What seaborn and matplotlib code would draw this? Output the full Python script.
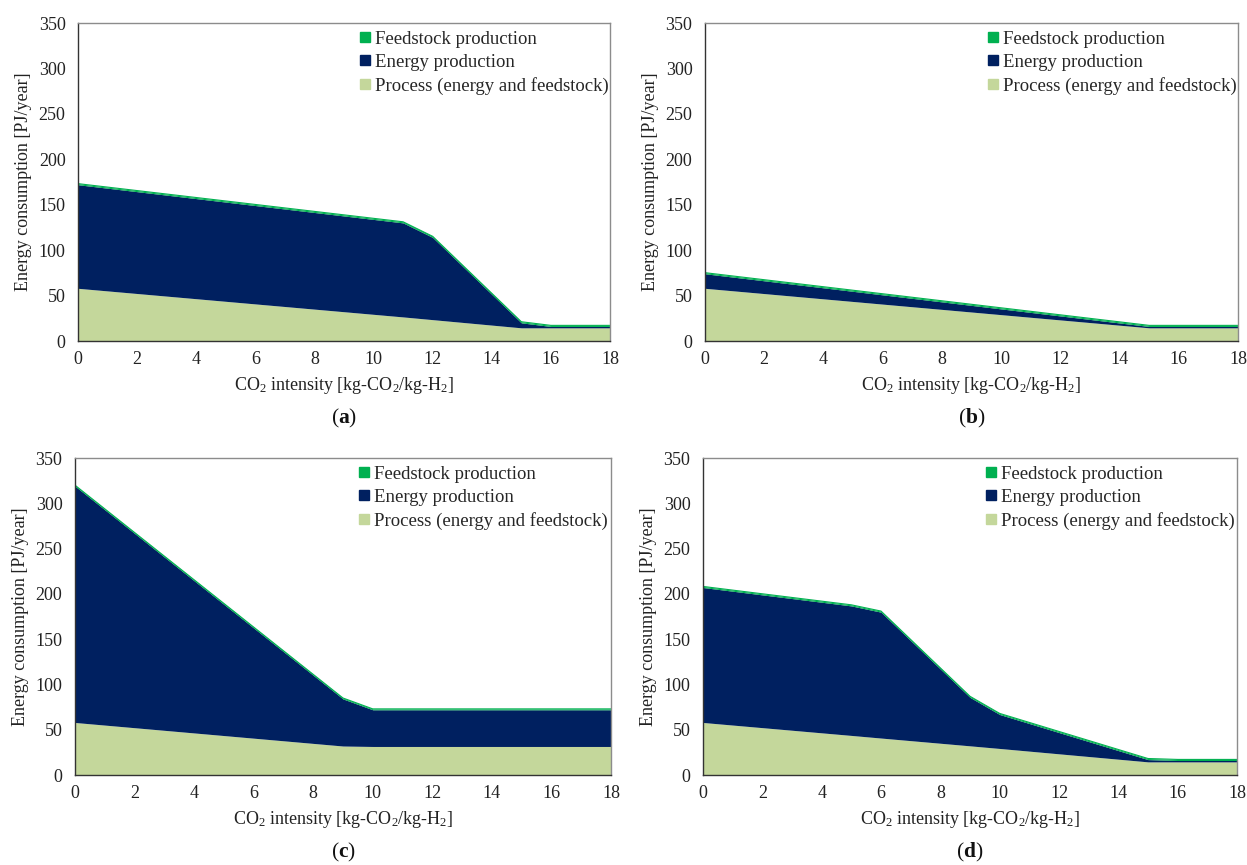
import numpy as np
import pandas as pd
import matplotlib
matplotlib.use("Agg")
import matplotlib.pyplot as plt
from matplotlib.lines import Line2D
import seaborn as sns

# CO2 intensity breakpoints [kg-CO2/kg-H2] and stacked energy consumption [PJ/year]
a_x = [0, 11, 12, 15, 16, 18]
a_process = [58, 26.5, 23.5, 14.5, 14.5, 14.5]
a_energy = [114, 103.5, 90.5, 5.5, 1.5, 1.5]
a_feed = [1.2, 1.2, 1.2, 1.2, 1.2, 1.2]

b_x = [0, 15, 18]
b_process = [58, 14.5, 14.5]
b_energy = [16, 1.5, 1.5]
b_feed = [1.2, 1.2, 1.2]

c_x = [0, 9, 10, 18]
c_process = [58, 32, 31.5, 31.5]
c_energy = [261, 52, 40.5, 40.5]
c_feed = [1.0, 1.0, 1.0, 1.0]

d_x = [0, 5, 6, 9, 10, 15, 16, 18]
d_process = [58, 43.7, 40.8, 32.2, 29.3, 14.5, 14.5, 14.5]
d_energy = [149, 143, 139, 53.5, 37.5, 2.5, 1.5, 1.5]
d_feed = [1.2, 1.2, 1.2, 1.2, 1.2, 1.2, 1.2, 1.2]

panel_labels = ["a", "b", "c", "d"]
series_names = ["Feedstock production", "Energy production", "Process (energy and feedstock)"]
x_ticks = [0, 2, 4, 6, 8, 10, 12, 14, 16, 18]
y_ticks = [0, 50, 100, 150, 200, 250, 300, 350]

COL_FEED = "#00B050"
COL_ENERGY = "#002060"
COL_PROCESS = "#C4D79B"

sns.set_theme(style="white")
plt.rcParams["font.family"] = ["Liberation Serif", "DejaVu Serif"]
plt.rcParams["mathtext.fontset"] = "custom"
plt.rcParams["mathtext.rm"] = "Liberation Serif"
plt.rcParams["mathtext.it"] = "Liberation Serif:italic"
plt.rcParams["mathtext.bf"] = "Liberation Serif:bold"

fig = plt.figure(figsize=(12.47, 8.65), dpi=100)

W = 1247.0
H = 865.0
# axes boxes in pixels: left, right, top, bottom
boxes = [
    (78, 610, 23, 341),
    (705, 1238, 23, 341),
    (75, 611, 458, 775),
    (703, 1237, 458, 775),
]
panels = [
    (a_x, a_process, a_energy, a_feed),
    (b_x, b_process, b_energy, b_feed),
    (c_x, c_process, c_energy, c_feed),
    (d_x, d_process, d_energy, d_feed),
]

for (l, r, t, b), (xs, proc, ener, feed), lab in zip(boxes, panels, panel_labels):
    ax = fig.add_axes([l / W, 1 - b / H, (r - l) / W, (b - t) / H])
    df = pd.DataFrame({"x": xs, "process": proc, "energy": ener, "feed": feed})
    df["lvl1"] = df["process"]
    df["lvl2"] = df["lvl1"] + df["energy"]
    df["lvl3"] = df["lvl2"] + df["feed"]

    ax.fill_between(df["x"], 0, df["lvl1"], color=COL_PROCESS, linewidth=0)
    ax.fill_between(df["x"], df["lvl1"], df["lvl2"], color=COL_ENERGY, linewidth=0)
    ax.fill_between(df["x"], df["lvl2"], df["lvl3"], color=COL_FEED, linewidth=0)
    sns.lineplot(data=df, x="x", y="lvl3", ax=ax, color=COL_FEED, linewidth=0.8)

    ax.set_xlim(0, 18)
    ax.set_ylim(0, 350)
    ax.set_xticks(x_ticks)
    ax.set_yticks(y_ticks)
    ax.tick_params(axis="both", length=0, labelsize=13, colors="#222222")
    ax.tick_params(axis="x", pad=7)
    ax.tick_params(axis="y", pad=9)
    ax.set_xlabel(r"CO$_2$ intensity [kg-CO$_2$/kg-H$_2$]", fontsize=13, color="#222222", labelpad=5)
    ax.set_ylabel("Energy consumption [PJ/year]", fontsize=13, color="#222222", labelpad=5)
    for side in ["top", "right"]:
        ax.spines[side].set_color("#8c8c8c")
        ax.spines[side].set_linewidth(1.0)
    for side in ["left", "bottom"]:
        ax.spines[side].set_color("#333333")
        ax.spines[side].set_linewidth(1.0)
    ax.grid(False)

    handles = [
        Line2D([], [], linestyle="none", marker="s", markersize=7, color=COL_FEED),
        Line2D([], [], linestyle="none", marker="s", markersize=7, color=COL_ENERGY),
        Line2D([], [], linestyle="none", marker="s", markersize=7, color=COL_PROCESS),
    ]
    ax.legend(handles, series_names, loc="upper left", bbox_to_anchor=(0.508, 1.012),
              frameon=False, fontsize=13.5, handlelength=0.6, handletextpad=0.25,
              labelspacing=0.32, borderaxespad=0.2)

    cx = (l + r) / 2 / W
    fig.text(cx, 1 - (b + 77) / H, r"($\mathbf{" + lab + r"}$)", ha="center", va="center",
             fontsize=15.5, color="#111111")

fig.savefig("out.png", dpi=100, facecolor="white")
